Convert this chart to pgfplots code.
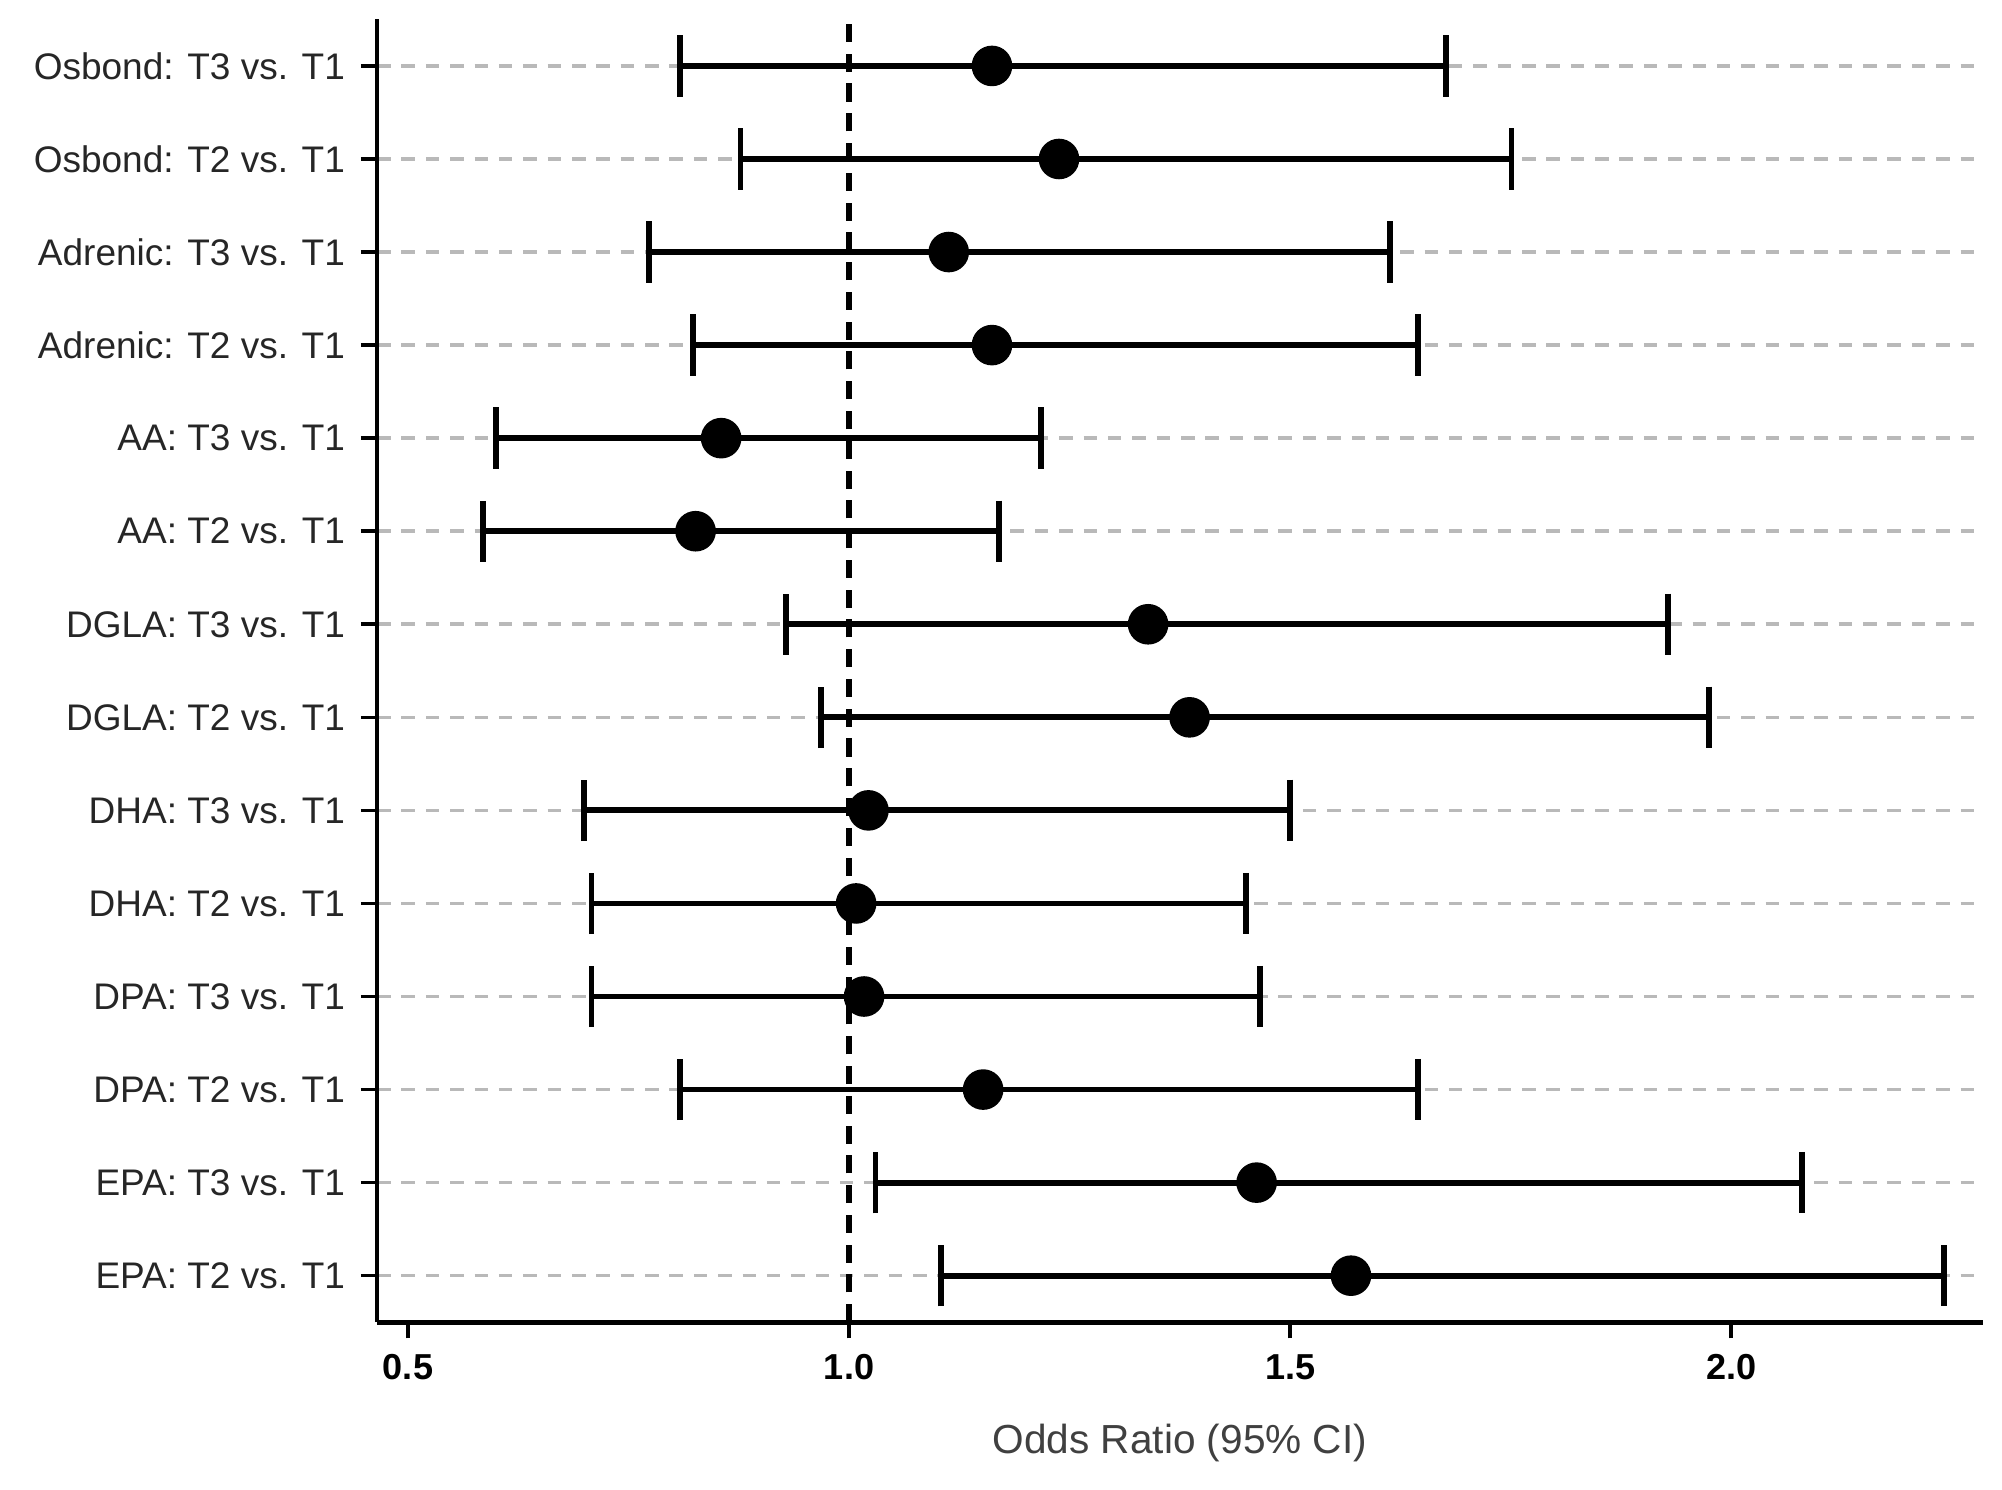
\documentclass[border=0pt]{standalone}
\usepackage{pgfplots}
\pgfplotsset{compat=1.18}
\usepackage{pgfplotstable}
\usepackage{fontspec}
\setmainfont{Liberation Sans}

% row (14 = top), odds ratio, lower and upper 95% CI
\pgfplotstableread{
row or lo hi
14 1.162 0.808 1.677
13 1.238 0.877 1.751
12 1.113 0.773 1.613
11 1.162 0.823 1.645
10 0.855 0.600 1.218
9  0.826 0.585 1.170
8  1.339 0.929 1.928
7  1.386 0.968 1.975
6  1.022 0.700 1.500
5  1.008 0.708 1.450
4  1.017 0.708 1.466
3  1.152 0.808 1.645
2  1.462 1.030 2.080
1  1.569 1.104 2.241
}\ordata

\begin{document}
\begin{tikzpicture}
\begin{axis}[
  scale only axis,
  width=355.9pt, height=288.8pt,
  xmin=0.465, xmax=2.285, ymin=0.5, ymax=14.5,
  axis x line=bottom, axis y line=left,
  x axis line style={-, line width=1.2pt},
  y axis line style={-, line width=0.8pt},
  xtick={0.5,1.0,1.5,2.0},
  xticklabels={0.5,1.0,1.5,2.0},
  x tick label style={font=\fontsize{8}{9}\selectfont\bfseries},
  ytick={1,...,14},
  yticklabels={EPA: T2 vs. T1, EPA: T3 vs. T1, DPA: T2 vs. T1, DPA: T3 vs. T1,
    DHA: T2 vs. T1, DHA: T3 vs. T1, DGLA: T2 vs. T1, DGLA: T3 vs. T1,
    AA: T2 vs. T1, AA: T3 vs. T1, Adrenic: T2 vs. T1, Adrenic: T3 vs. T1,
    Osbond: T2 vs. T1, Osbond: T3 vs. T1},
  y tick label style={font=\fontsize{8.2}{9}\selectfont, text=black!85},
  tick align=outside,
  major tick length=3.6pt,
  tick style={black, line width=0.8pt},
  ymajorgrids,
  grid style={gray!55, line width=0.8pt, dash pattern=on 3pt off 2.4pt},
  xlabel={Odds Ratio (95\% CI)},
  xlabel style={font=\fontsize{9}{10}\selectfont, text=black!75, yshift=-3pt},
  clip=false,
]
\addplot[black, line width=1.2pt, dash pattern=on 4pt off 2.6pt]
  coordinates {(1,0.5) (1,14.5)};
\addplot[only marks, mark=*, mark size=4.3pt, black,
  error bars/.cd, x dir=both, x explicit,
  error bar style={line width=1.3pt, black},
  error mark options={rotate=90, mark size=6.8pt, line width=1.3pt, black}]
  table[x=or, y=row,
    x error plus expr=\thisrow{hi}-\thisrow{or},
    x error minus expr=\thisrow{or}-\thisrow{lo}] {\ordata};
\end{axis}
\pgfresetboundingbox
\path ([xshift=-83.6pt, yshift=-37pt]current axis.south west)
  rectangle ([xshift=4.3pt, yshift=4.3pt]current axis.north east);
\end{tikzpicture}
\end{document}
